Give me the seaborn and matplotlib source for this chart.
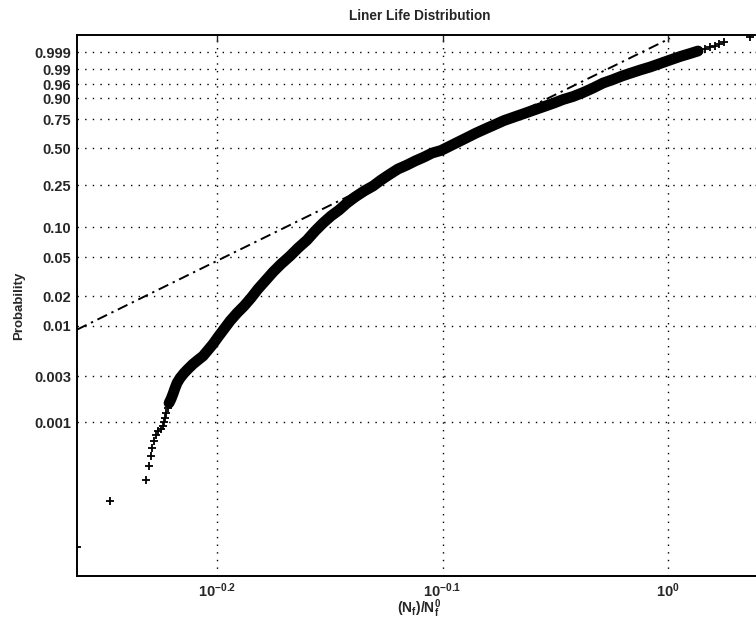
import numpy as np
import pandas as pd
import matplotlib
matplotlib.use('Agg')
import matplotlib.pyplot as plt
import seaborn as sns

# ordered sample (N_f / N_f^0) and its plotting probability
life = [0.5469, 0.5657, 0.5868, 0.5886, 0.5901, 0.5907, 0.5918, 0.5927, 0.5941, 0.5959,
        0.5971, 0.598, 0.5986, 0.5992, 0.5999, 0.6008, 0.602, 0.6032, 0.6045, 0.6057,
        0.6076, 0.6101, 0.6125, 0.6157, 0.6188, 0.622, 0.6252, 0.6284, 0.6316, 0.6355,
        0.6394, 0.644, 0.6486, 0.6532, 0.6579, 0.6627, 0.6681, 0.6736, 0.6798, 0.6854,
        0.6917, 0.6974, 0.7031, 0.7088, 0.7147, 0.7205, 0.7264, 0.7332, 0.7399, 0.7460,
        0.7529, 0.7590, 0.7660, 0.7723, 0.7795, 0.7859, 0.7931, 0.8004, 0.8070, 0.8145,
        0.8220, 0.8304, 0.8381, 0.8458, 0.8545, 0.8633, 0.8721, 0.8811, 0.8901, 0.8983,
        0.9075, 0.9169, 0.9263, 0.9358, 0.9454, 0.9541, 0.9629, 0.9718, 0.9818, 0.9919,
        1.0020, 1.0123, 1.0227, 1.0311, 1.0385, 1.0438, 1.0492, 1.0535, 1.0589, 1.0873]
prob = [0.00005, 0.00015, 0.00025, 0.00035, 0.00045, 0.000538, 0.000636, 0.000734, 0.000808, 0.000847,
        0.000910, 0.001001, 0.001102, 0.001241, 0.001399, 0.001576, 0.001734, 0.001954, 0.002254, 0.00254,
        0.002862, 0.003224, 0.003547, 0.003996, 0.004396, 0.004836, 0.005579, 0.006436, 0.007603, 0.009197,
        0.01112, 0.01345, 0.01588, 0.01919, 0.02374, 0.02866, 0.03542, 0.04271, 0.05147, 0.06197,
        0.07452, 0.09156, 0.1097, 0.1284, 0.1466, 0.1709, 0.1945, 0.2209, 0.2452, 0.2773,
        0.3125, 0.3445, 0.3716, 0.4002, 0.4302, 0.4615, 0.482, 0.5188, 0.5529, 0.5919,
        0.6314, 0.6709, 0.7055, 0.7395, 0.7684, 0.7961, 0.8225, 0.8473, 0.8704, 0.8916,
        0.9081, 0.9276, 0.9463, 0.9629, 0.9722, 0.9797, 0.9848, 0.9888, 0.9920, 0.99476,
        0.99669, 0.99798, 0.99873, 0.99916, 0.99945, 0.99955, 0.99965, 0.99975, 0.99985, 0.99995]

# reference Weibull line (dash-dot)
fit_x = [0.5469, 1.002]
fit_p = [0.0090664, 0.999931]

xlim = [0.5469, 1.1007]
ylim = [2.53e-05, 0.999969]

yticks = [0.001, 0.003, 0.01, 0.02, 0.05, 0.10, 0.25, 0.50, 0.75, 0.90, 0.96, 0.99, 0.999]
ylabels = ['0.001', '0.003', '0.01', '0.02', '0.05', '0.10', '0.25', '0.50', '0.75',
           '0.90', '0.96', '0.99', '0.999']
xticks = [10 ** -0.2, 10 ** -0.1, 1.0]
xlabels = [r'$10^{-0.2}$', r'$10^{-0.1}$', r'$10^{0}$']


# weibull probability axis
def fwd(p):
    p = np.clip(p, 1e-12, 1 - 1e-12)
    return np.log(-np.log(1 - p))


def inv(y):
    return 1 - np.exp(-np.exp(y))


sns.set_style('white')
plt.rcParams['font.family'] = ['Liberation Sans', 'DejaVu Sans']
plt.rcParams['mathtext.fontset'] = 'custom'
plt.rcParams['mathtext.rm'] = 'Liberation Sans:bold'
plt.rcParams['mathtext.it'] = 'Liberation Sans:bold'
plt.rcParams['mathtext.bf'] = 'Liberation Sans:bold'

fig = plt.figure(figsize=(7.56, 6.27), dpi=100)
ax = fig.add_axes([77 / 756, 1 - 576 / 627, (762 - 77) / 756, (576 - 35) / 627])
ax.set_xscale('log')
ax.set_yscale('function', functions=(fwd, inv))

df = pd.DataFrame({'life': life, 'prob': prob})
band = df.iloc[15:84]  # where the markers pile up into a solid band
sns.lineplot(data=band, x='life', y='prob', sort=False, estimator=None,
             color='black', linewidth=7.8, ax=ax)
sns.scatterplot(data=df, x='life', y='prob', marker='+', s=36, color='black',
                linewidth=1.3, ax=ax, zorder=3)
sns.lineplot(x=fit_x, y=fit_p, sort=False, estimator=None, color='black',
             linewidth=1.4, linestyle=(0, (5.5, 2.5, 1.2, 2.5)), ax=ax)

ax.set_xlim(xlim)
ax.set_ylim(ylim)
ax.set_yticks(yticks)
ax.set_yticklabels(ylabels)
ax.set_xticks(xticks)
ax.set_xticklabels(xlabels)
ax.minorticks_off()
ax.tick_params(direction='in', length=5, width=1, top=True, right=True,
               labelsize=10.5, pad=4)
for lab in ax.get_yticklabels():
    lab.set_fontweight('bold')
ax.grid(True, color='black', linestyle=(0, (1, 4.5)), linewidth=1.0)
for s in ax.spines.values():
    s.set_color('black')
    s.set_linewidth(1.4)

ax.set_title('Liner Life Distribution', fontsize=9.8, fontweight='bold', pad=11)
ax.set_xlabel(r'(N$_f$)/N$_f^0$', fontsize=10, fontweight='bold', labelpad=-2)
ax.set_ylabel('Probability', fontsize=9.5, fontweight='bold', labelpad=7)

fig.savefig('out.png', dpi=100)
